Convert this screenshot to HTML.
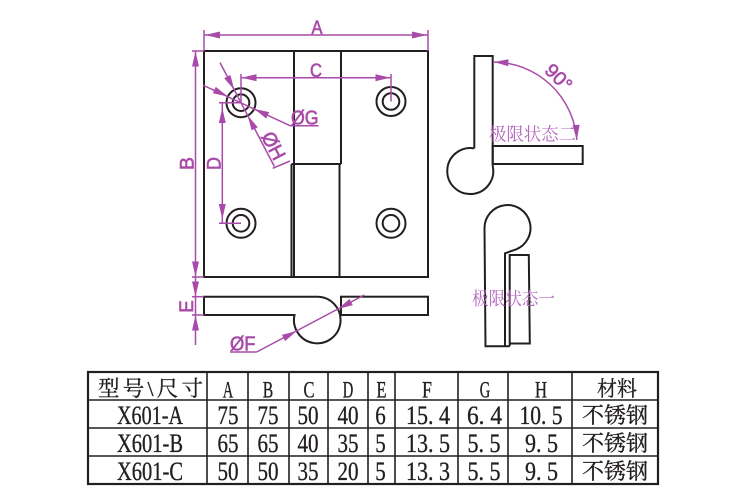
<!DOCTYPE html>
<html><head><meta charset="utf-8">
<style>
html,body{margin:0;padding:0;background:#fff;}
svg{display:block;}
</style></head>
<body>
<svg width="750" height="500" viewBox="0 0 750 500" xmlns="http://www.w3.org/2000/svg">
<rect width="750" height="500" fill="#fff"/>

<!-- black outlines -->
<g fill="none" stroke="#231f20" stroke-width="2">
  <rect x="204" y="51" width="224" height="226"/>
  <line x1="294" y1="51" x2="294" y2="277"/>
  <line x1="341" y1="51" x2="341" y2="164"/>
  <line x1="291.5" y1="164" x2="341" y2="164"/>
  <line x1="291.5" y1="164" x2="291.5" y2="277"/>
  <line x1="339.5" y1="164" x2="339.5" y2="277"/>

  <circle cx="241" cy="102.7" r="14.5"/>
  <circle cx="241" cy="102.7" r="8.3"/>
  <circle cx="391" cy="101.5" r="14.5"/>
  <circle cx="391" cy="101.5" r="8.3"/>
  <circle cx="241" cy="223.3" r="14.5"/>
  <circle cx="241" cy="223.3" r="8.3"/>
  <circle cx="391" cy="223.3" r="14.5"/>
  <circle cx="391" cy="223.3" r="8.3"/>

  <!-- side view -->
  <path d="M317.3,296.7 H204 V315 H294.5 A23.3,23.3 0 1 0 317.3,296.7"/>
  <rect x="341" y="296.7" width="87" height="18.3"/>

  <!-- state two -->
  <path d="M474.3,148.4 V56 H492.7 V166"/>
  <path d="M474.3,148.4 A23,23 0 1 0 492.7,166"/>
  <rect x="492.7" y="146" width="90" height="18"/>

  <!-- state one -->
  <path d="M484.5,228 A23,23 0 1 1 516,249.4 L505,253.3 V346"/>
  <path d="M484.5,228 L485.5,346.3 H509.7"/>
  <path d="M509.7,346.3 V255 H528.8 L529.8,343.5 H509.7"/>
</g>

<!-- magenta dimension lines -->
<g fill="none" stroke="#a84ba8" stroke-width="1.5">
  <line x1="204" y1="35" x2="428" y2="35"/>
  <line x1="204" y1="30" x2="204" y2="51"/>
  <line x1="428" y1="30" x2="428" y2="51"/>
  <line x1="241" y1="77.7" x2="391" y2="77.7"/>
  <line x1="241" y1="74" x2="241" y2="102.7"/>
  <line x1="391" y1="74" x2="391" y2="101.5"/>
  <line x1="195.5" y1="51" x2="195.5" y2="345"/>
  <line x1="192" y1="51" x2="204" y2="51"/>
  <line x1="192" y1="277" x2="204" y2="277"/>
  <line x1="192" y1="296.7" x2="204" y2="296.7"/>
  <line x1="192" y1="315" x2="204" y2="315"/>
  <line x1="222.3" y1="103" x2="222.3" y2="223"/>
  <line x1="219" y1="102.7" x2="241" y2="102.7"/>
  <line x1="219" y1="223.3" x2="241" y2="223.3"/>
  <line x1="203" y1="85.2" x2="290" y2="125.7"/>
  <line x1="290" y1="125.7" x2="318.5" y2="125.7"/>
  <line x1="220" y1="62.6" x2="274.4" y2="166.5"/>
  <line x1="272.7" y1="168.3" x2="290" y2="161"/>
  <line x1="364.3" y1="295" x2="256.7" y2="352"/>
  <line x1="256.7" y1="352" x2="230" y2="352"/>
  <path d="M493,62 A84,84 0 0 1 576.8,140"/>
</g>

<!-- arrowheads -->
<g fill="#a84ba8" stroke="none">
  <polygon points="205,35 220,31.5 220,38.5"/>
  <polygon points="427,35 412,31.5 412,38.5"/>
  <polygon points="241.5,77.7 256.5,74.2 256.5,81.2"/>
  <polygon points="390.5,77.7 375.5,74.2 375.5,81.2"/>
  <polygon points="195.5,51.5 192,66.5 199,66.5"/>
  <polygon points="195.5,276.5 192,261.5 199,261.5"/>
  <polygon points="195.5,296.5 192,281.5 199,281.5"/>
  <polygon points="195.5,315.5 192,330.5 199,330.5"/>
  <polygon points="222.3,108 218.8,123 225.8,123"/>
  <polygon points="222.3,219 218.8,204 225.8,204"/>
  <polygon points="337.9,309.05 352.8,305.1 349.5,298.9"/>
  <polygon points="296.7,330.95 285.1,341.1 281.9,334.9"/>
  <polygon points="227.9,96.5 212.8,93.3 215.8,86.9"/>
  <polygon points="254.1,108.9 266.2,118.5 269.2,112.1"/>
  <polygon points="234.3,89.85 224.2,78.2 230.4,75.0"/>
  <polygon points="247.7,115.55 251.6,130.4 257.8,127.2"/>
  <polygon points="494,62 508.5,59.3 508.2,66.3"/>
  <polygon points="576.8,140 572.6,125.3 579.6,124.8"/>
</g>

<!-- dimension labels -->
<g fill="#a84ba8" stroke="#a84ba8" stroke-width="0.6" font-family="'Liberation Sans', sans-serif" font-size="19">
  <text x="317" y="34" text-anchor="middle" textLength="11" lengthAdjust="spacingAndGlyphs">A</text>
  <text x="316" y="76.8" text-anchor="middle" textLength="12" lengthAdjust="spacingAndGlyphs">C</text>
  <text x="291" y="124.5" font-size="20" textLength="27.5" lengthAdjust="spacingAndGlyphs">ØG</text>
  <text x="230" y="350.5" font-size="20" textLength="25.5" lengthAdjust="spacingAndGlyphs">ØF</text>
  <text transform="translate(193.5,163.5) rotate(-90)" text-anchor="middle" textLength="13" lengthAdjust="spacingAndGlyphs">B</text>
  <text transform="translate(220.5,163.5) rotate(-90)" text-anchor="middle" textLength="13" lengthAdjust="spacingAndGlyphs">D</text>
  <text transform="translate(192.8,306.5) rotate(-90)" text-anchor="middle" textLength="12.5" lengthAdjust="spacingAndGlyphs">E</text>
  <text transform="translate(259,137) rotate(62.4)" x="0" y="-2" font-size="20" textLength="29" lengthAdjust="spacingAndGlyphs">ØH</text>
  <text transform="translate(559,77) rotate(45)" x="0" y="7" text-anchor="middle" font-size="19" textLength="30" lengthAdjust="spacingAndGlyphs">90°</text>
</g>

<!-- state labels -->
<g fill="#b565c0" font-family="'Liberation Serif', 'Noto Serif CJK SC', serif" font-size="18">
  <text x="489" y="140.5" textLength="87" lengthAdjust="spacingAndGlyphs">极限状态二</text>
  <text x="472" y="305" textLength="83" lengthAdjust="spacingAndGlyphs">极限状态一</text>
</g>

<!-- table -->
<g stroke="#231f20" fill="none">
  <rect x="88" y="372" width="570" height="112" stroke-width="2.2"/>
  <g stroke-width="1.6">
    <line x1="88" y1="400" x2="658" y2="400"/>
    <line x1="88" y1="428" x2="658" y2="428"/>
    <line x1="88" y1="456" x2="658" y2="456"/>
    <line x1="207" y1="372" x2="207" y2="484"/>
    <line x1="248" y1="372" x2="248" y2="484"/>
    <line x1="289" y1="372" x2="289" y2="484"/>
    <line x1="328" y1="372" x2="328" y2="484"/>
    <line x1="368" y1="372" x2="368" y2="484"/>
    <line x1="395" y1="372" x2="395" y2="484"/>
    <line x1="458" y1="372" x2="458" y2="484"/>
    <line x1="508" y1="372" x2="508" y2="484"/>
    <line x1="572" y1="372" x2="572" y2="484"/>
  </g>
</g>

<g fill="#231f20" stroke="#231f20" stroke-width="0.35" font-family="'Liberation Serif', 'Noto Serif CJK SC', serif" text-anchor="middle">
  <text x="150.5" y="396" font-size="21.5" textLength="105" lengthAdjust="spacing">型号\尺寸</text>
  <g font-size="23.5">
    <text x="228" y="397.5" textLength="10.5" lengthAdjust="spacingAndGlyphs">A</text>
    <text x="268" y="397.5" textLength="10.5" lengthAdjust="spacingAndGlyphs">B</text>
    <text x="309" y="397.5" textLength="11" lengthAdjust="spacingAndGlyphs">C</text>
    <text x="348" y="397.5" textLength="10.5" lengthAdjust="spacingAndGlyphs">D</text>
    <text x="381.5" y="397.5" textLength="10" lengthAdjust="spacingAndGlyphs">E</text>
    <text x="427" y="397.5" textLength="10" lengthAdjust="spacingAndGlyphs">F</text>
    <text x="485" y="397.5" textLength="10.5" lengthAdjust="spacingAndGlyphs">G</text>
    <text x="541" y="397.5" textLength="12" lengthAdjust="spacingAndGlyphs">H</text>
  </g>
  <text x="617" y="396" font-size="21" textLength="40" lengthAdjust="spacingAndGlyphs">材料</text>

  <g font-size="26.5">
    <text x="150" y="424" textLength="66" lengthAdjust="spacingAndGlyphs">X601-A</text>
    <text x="228" y="424" textLength="21" lengthAdjust="spacingAndGlyphs">75</text>
    <text x="268" y="424" textLength="21" lengthAdjust="spacingAndGlyphs">75</text>
    <text x="308" y="424" textLength="21" lengthAdjust="spacingAndGlyphs">50</text>
    <text x="348" y="424" textLength="21" lengthAdjust="spacingAndGlyphs">40</text>
    <text x="380.5" y="424" textLength="10.5" lengthAdjust="spacingAndGlyphs">6</text>
    <text x="428" y="424" textLength="44" lengthAdjust="spacingAndGlyphs">15. 4</text>
    <text x="484.5" y="424" textLength="35" lengthAdjust="spacingAndGlyphs">6. 4</text>
    <text x="541" y="424" textLength="43" lengthAdjust="spacingAndGlyphs">10. 5</text>

    <text x="150" y="452" textLength="66" lengthAdjust="spacingAndGlyphs">X601-B</text>
    <text x="228" y="452" textLength="21" lengthAdjust="spacingAndGlyphs">65</text>
    <text x="268" y="452" textLength="21" lengthAdjust="spacingAndGlyphs">65</text>
    <text x="308" y="452" textLength="21" lengthAdjust="spacingAndGlyphs">40</text>
    <text x="348" y="452" textLength="21" lengthAdjust="spacingAndGlyphs">35</text>
    <text x="380.5" y="452" textLength="10.5" lengthAdjust="spacingAndGlyphs">5</text>
    <text x="428" y="452" textLength="44" lengthAdjust="spacingAndGlyphs">13. 5</text>
    <text x="484" y="452" textLength="33" lengthAdjust="spacingAndGlyphs">5. 5</text>
    <text x="541.5" y="452" textLength="33" lengthAdjust="spacingAndGlyphs">9. 5</text>

    <text x="150" y="480" textLength="66" lengthAdjust="spacingAndGlyphs">X601-C</text>
    <text x="228" y="480" textLength="21" lengthAdjust="spacingAndGlyphs">50</text>
    <text x="268" y="480" textLength="21" lengthAdjust="spacingAndGlyphs">50</text>
    <text x="308" y="480" textLength="21" lengthAdjust="spacingAndGlyphs">35</text>
    <text x="348" y="480" textLength="21" lengthAdjust="spacingAndGlyphs">20</text>
    <text x="380.5" y="480" textLength="10.5" lengthAdjust="spacingAndGlyphs">5</text>
    <text x="428" y="480" textLength="44" lengthAdjust="spacingAndGlyphs">13. 3</text>
    <text x="484" y="480" textLength="33" lengthAdjust="spacingAndGlyphs">5. 5</text>
    <text x="541.5" y="480" textLength="33" lengthAdjust="spacingAndGlyphs">9. 5</text>
  </g>
  <g font-size="22">
    <text x="615" y="423" textLength="66" lengthAdjust="spacingAndGlyphs">不锈钢</text>
    <text x="615" y="451" textLength="66" lengthAdjust="spacingAndGlyphs">不锈钢</text>
    <text x="615" y="479" textLength="66" lengthAdjust="spacingAndGlyphs">不锈钢</text>
  </g>
</g>
</svg>
</body></html>
